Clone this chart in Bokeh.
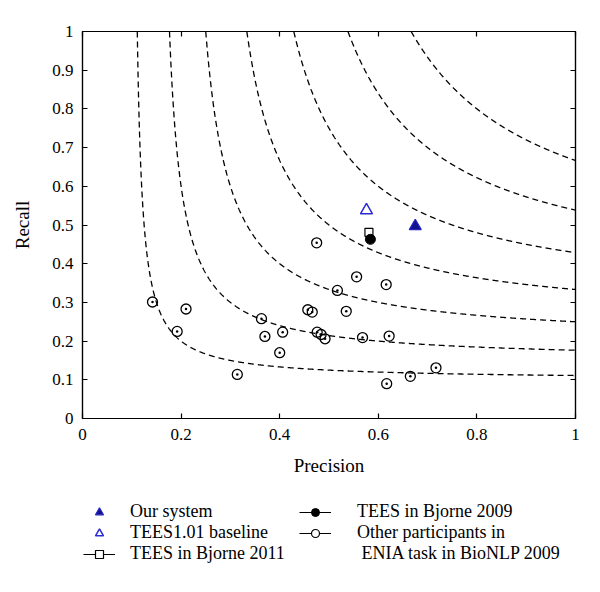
import numpy as np
from bokeh.plotting import figure
from bokeh.layouts import column
from bokeh.models import (Legend, LegendItem, LinearAxis, FixedTicker,
                          CustomJSTickFormatter, Range1d)
from bokeh.embed import file_html
from bokeh.resources import INLINE

# ---- data ----
f_levels = [0.2, 0.3, 0.4, 0.5, 0.6, 0.7, 0.8]

ours_p = [0.675]
ours_r = [0.497]

baseline_p = [0.576]
baseline_r = [0.538]

tees2011_p = [0.581]
tees2011_r = [0.481]

tees2009_p = [0.584]
tees2009_r = [0.463]

others_p = [0.475, 0.556, 0.616, 0.517, 0.457, 0.466, 0.535, 0.476, 0.484, 0.492, 0.568,
            0.622, 0.717, 0.665, 0.617, 0.142, 0.210, 0.192, 0.363, 0.370, 0.406, 0.400, 0.314]
others_r = [0.454, 0.366, 0.346, 0.331, 0.281, 0.275, 0.277, 0.223, 0.217, 0.206, 0.209,
            0.213, 0.131, 0.109, 0.090, 0.301, 0.283, 0.225, 0.258, 0.212, 0.223, 0.170, 0.114]

x_ticks = [0, 0.2, 0.4, 0.6, 0.8, 1]
y_ticks = [0, 0.1, 0.2, 0.3, 0.4, 0.5, 0.6, 0.7, 0.8, 0.9, 1]

FONT = "Liberation Serif"
OURS_FILL, OURS_LINE = "#12128c", "#2424c0"
BASE_LINE = "#2a2ad6"

p = figure(width=584, height=490, output_backend="svg", toolbar_location=None,
           x_range=Range1d(0, 1), y_range=Range1d(0, 1),
           min_border_left=82, min_border_right=9, min_border_top=31, min_border_bottom=72,
           x_axis_label="Precision", y_axis_label="Recall")
p.grid.visible = False
p.outline_line_color = "black"
p.outline_line_width = 1.2
p.background_fill_color = "white"
p.border_fill_color = "white"

fmt = CustomJSTickFormatter(code="return String(Math.round(tick*10)/10)")
blank = CustomJSTickFormatter(code="return ''")

for ax, ticks in ((p.xaxis[0], x_ticks), (p.yaxis[0], y_ticks)):
    ax.ticker = FixedTicker(ticks=ticks)
    ax.formatter = fmt
    ax.major_tick_in = 5
    ax.major_tick_out = 0
    ax.minor_tick_line_color = None
    ax.axis_line_width = 1.2
    ax.major_tick_line_width = 1.2
    ax.major_label_text_font = FONT
    ax.major_label_text_font_size = "17px"
    ax.major_label_text_color = "black"
    ax.axis_label_text_font = FONT
    ax.axis_label_text_font_size = "19px"
    ax.axis_label_text_font_style = "normal"
    ax.axis_label_text_color = "black"
p.xaxis[0].major_label_standoff = 10
p.xaxis[0].axis_label_standoff = 12
p.yaxis[0].major_label_standoff = 9
p.yaxis[0].axis_label_standoff = 16

top = LinearAxis(ticker=FixedTicker(ticks=x_ticks), formatter=blank)
right = LinearAxis(ticker=FixedTicker(ticks=y_ticks), formatter=blank)
for ax in (top, right):
    ax.major_tick_in = 5
    ax.major_tick_out = 0
    ax.minor_tick_line_color = None
    ax.axis_line_width = 1.2
    ax.major_tick_line_width = 1.2
    ax.major_label_standoff = 0
p.add_layout(top, "above")
p.add_layout(right, "right")

# ---- iso-F curves ----
for f in f_levels:
    pmin = f / (2 - f)
    P = np.linspace(pmin, 1, 1500)
    R = f * P / (2 * P - f)
    p.line(P, R, line_color="black", line_width=1.3, line_dash="6 4")

# ---- points ----
p.scatter(others_p, others_r, marker="circle_dot", size=10, fill_color=None,
          line_color="black", line_width=1.3)
p.scatter(tees2011_p, tees2011_r, marker="square", size=8, fill_color=None,
          line_color="black", line_width=1.2)
p.scatter(tees2009_p, tees2009_r, marker="circle", size=10, fill_color="black",
          line_color="black", line_width=1)
p.scatter(baseline_p, baseline_r, marker="triangle", size=12, fill_color=None,
          line_color=BASE_LINE, line_width=1.5)
p.scatter(ours_p, ours_r, marker="triangle", size=12, fill_color=OURS_FILL,
          line_color=OURS_LINE, line_width=1.2)

# ---- legend panel (a second, axis-less figure) ----
lg = figure(width=584, height=86, output_backend="svg", toolbar_location=None,
            x_range=Range1d(0, 1), y_range=Range1d(0, 1),
            x_axis_location=None, y_axis_location=None,
            min_border_left=82, min_border_right=9, min_border_top=0, min_border_bottom=0)
lg.grid.visible = False
lg.outline_line_color = None

nan1 = [np.nan]
nan2 = [np.nan, np.nan]
l_ours = lg.scatter(x=nan1, y=nan1, marker="triangle", fill_color=OURS_FILL,
                    line_color=OURS_LINE, line_width=1.2)
l_base = lg.scatter(x=nan1, y=nan1, marker="triangle", fill_color=None,
                    line_color=BASE_LINE, line_width=1.5)
l_line = lg.line(x=nan2, y=nan2, line_color="black", line_width=1.2)
l_2011 = lg.scatter(x=nan1, y=nan1, marker="square", fill_color="white",
                    line_color="black", line_width=1.2)
l_2009 = lg.scatter(x=nan1, y=nan1, marker="circle", fill_color="black",
                    line_color="black", line_width=1)
l_other = lg.scatter(x=nan1, y=nan1, marker="circle", fill_color="white",
                     line_color="black", line_width=1.2)
l_blank = lg.line(x=nan2, y=nan2, line_alpha=0)


def make_legend(items, loc, standoff):
    return Legend(items=items, location=loc, padding=0, margin=0, spacing=0,
                  glyph_width=32, glyph_height=20, label_height=20,
                  label_standoff=standoff, label_text_font=FONT, label_text_font_size="18px",
                  label_text_color="black", border_line_alpha=0, background_fill_alpha=0)


legA = make_legend([
    LegendItem(label="Our system", renderers=[l_ours]),
    LegendItem(label="TEES1.01 baseline", renderers=[l_base]),
    LegendItem(label="TEES in Bjorne 2011", renderers=[l_line, l_2011]),
], (1, 12), 15)
legB = make_legend([
    LegendItem(label="TEES in Bjorne 2009", renderers=[l_line, l_2009]),
    LegendItem(label="Other participants in", renderers=[l_line, l_other]),
    LegendItem(label=" ENIA task in BioNLP 2009", renderers=[l_blank]),
], (217, 12), 26)
lg.add_layout(legA)
lg.add_layout(legB)

layout = column(p, lg, spacing=0)
open("out.html", "w").write(file_html(layout, INLINE))
